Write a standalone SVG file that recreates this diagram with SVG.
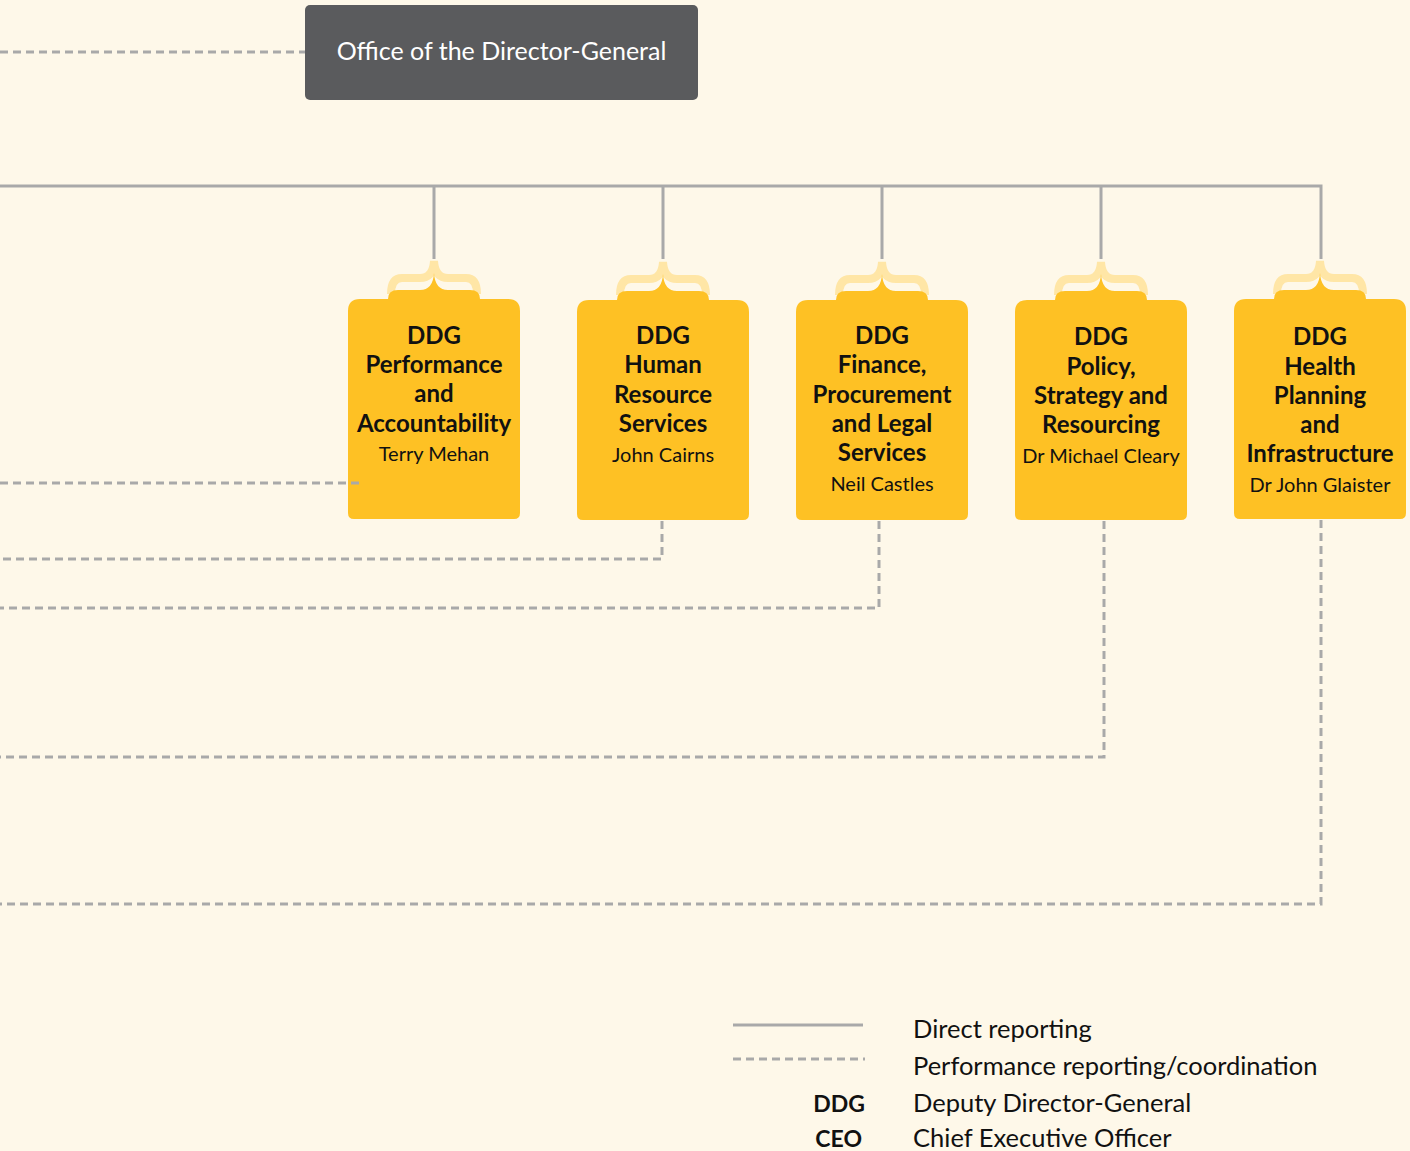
<svg xmlns="http://www.w3.org/2000/svg" width="1410" height="1151" viewBox="0 0 1410 1151">
<defs>
<style>
.bg{fill:#FEF8E9}
.solid{stroke:#A9A9A9;stroke-width:3;fill:none}
.dash{stroke:#A9A9A9;stroke-width:3;fill:none;stroke-dasharray:8 5}
.box{fill:#FEC124}
.brace{fill:none;stroke:#FFE6A6;stroke-width:8;stroke-linecap:butt}
.t{font-family:Lato,"Noto Sans",sans-serif;fill:#111;text-anchor:middle}
.b{font-weight:bold;font-size:24px}
.n{font-size:20px}
.office{font-family:Lato,"Noto Sans",sans-serif;fill:#fff;font-size:25px;text-anchor:middle}
.leg{font-family:Lato,"Noto Sans",sans-serif;fill:#111;font-size:25.5px}
.legb{font-family:Lato,"Noto Sans",sans-serif;fill:#111;font-size:23px;font-weight:bold;text-anchor:end}
</style>
<path id="shape" d="M-86,12 Q-86,0 -74,0 L-46,0 Q-46,-9 -36,-9 L-14,-9 Q-1,-9 0,-26 Q1,-9 14,-9 L36,-9 Q46,-9 46,0 L74,0 Q86,0 86,12 L86,214 Q86,220 80,220 L-80,220 Q-86,220 -86,214 Z"/>
<path id="br" d="M-43,-5 Q-43,-21 -32,-21 L-14,-21 Q-1,-21 0,-38 Q1,-21 14,-21 L32,-21 Q43,-21 43,-5"/>
</defs>
<rect class="bg" x="0" y="0" width="1410" height="1151"/>

<g id="office">
<rect x="305" y="5" width="393" height="95" rx="5" fill="#5A5B5D"/>
<text class="office" x="501.5" y="60">Office of the Director-General</text>
</g>

<g id="ddg-performance" transform="translate(434,299)">
<use href="#br" class="brace"/>
<use href="#shape" class="box"/>
<text class="t b" x="0" y="45">DDG</text>
<text class="t b" x="0" y="74">Performance</text>
<text class="t b" x="0" y="103">and</text>
<text class="t b" x="0" y="133">Accountability</text>
<text class="t n" x="0" y="162">Terry Mehan</text>
</g>

<g id="ddg-hr" transform="translate(663,300)">
<use href="#br" class="brace"/>
<use href="#shape" class="box"/>
<text class="t b" x="0" y="44">DDG</text>
<text class="t b" x="0" y="73">Human</text>
<text class="t b" x="0" y="103">Resource</text>
<text class="t b" x="0" y="132">Services</text>
<text class="t n" x="0" y="162">John Cairns</text>
</g>

<g id="ddg-finance" transform="translate(882,300)">
<use href="#br" class="brace"/>
<use href="#shape" class="box"/>
<text class="t b" x="0" y="44">DDG</text>
<text class="t b" x="0" y="73">Finance,</text>
<text class="t b" x="0" y="103">Procurement</text>
<text class="t b" x="0" y="132">and Legal</text>
<text class="t b" x="0" y="161">Services</text>
<text class="t n" x="0" y="191">Neil Castles</text>
</g>

<g id="ddg-policy" transform="translate(1101,300)">
<use href="#br" class="brace"/>
<use href="#shape" class="box"/>
<text class="t b" x="0" y="45">DDG</text>
<text class="t b" x="0" y="75">Policy,</text>
<text class="t b" x="0" y="104">Strategy and</text>
<text class="t b" x="0" y="133">Resourcing</text>
<text class="t n" x="0" y="163">Dr Michael Cleary</text>
</g>

<g id="ddg-health" transform="translate(1320,299)">
<use href="#br" class="brace"/>
<use href="#shape" class="box"/>
<text class="t b" x="0" y="46">DDG</text>
<text class="t b" x="0" y="76">Health</text>
<text class="t b" x="0" y="105">Planning</text>
<text class="t b" x="0" y="134">and</text>
<text class="t b" x="0" y="163">Infrastructure</text>
<text class="t n" x="0" y="193">Dr John Glaister</text>
</g>

<g id="connectors">
<line class="dash" x1="0" y1="52" x2="305" y2="52"/>
<polyline class="solid" points="0,186 1321,186 1321,259"/>
<line class="solid" x1="434" y1="186" x2="434" y2="259"/>
<line class="solid" x1="663" y1="186" x2="663" y2="259"/>
<line class="solid" x1="882" y1="186" x2="882" y2="259"/>
<line class="solid" x1="1101" y1="186" x2="1101" y2="259"/>
<line class="dash" x1="0" y1="483" x2="361" y2="483"/>
<polyline class="dash" points="662,521 662,559 0,559"/>
<polyline class="dash" points="879,521 879,608 0,608"/>
<polyline class="dash" points="1104,521 1104,757 0,757"/>
<polyline class="dash" points="1321,520 1321,904 0,904"/>
</g>

<g id="legend">
<line class="solid" x1="733" y1="1025" x2="863" y2="1025"/>
<line class="dash" x1="733" y1="1059" x2="865" y2="1059"/>
<text class="leg" x="913" y="1038">Direct reporting</text>
<text class="leg" x="913" y="1075">Performance reporting/coordination</text>
<text class="legb" x="865" y="1112">DDG</text>
<text class="leg" x="913" y="1112">Deputy Director-General</text>
<text class="legb" x="862" y="1147">CEO</text>
<text class="leg" x="913" y="1147">Chief Executive Officer</text>
</g>
</svg>
